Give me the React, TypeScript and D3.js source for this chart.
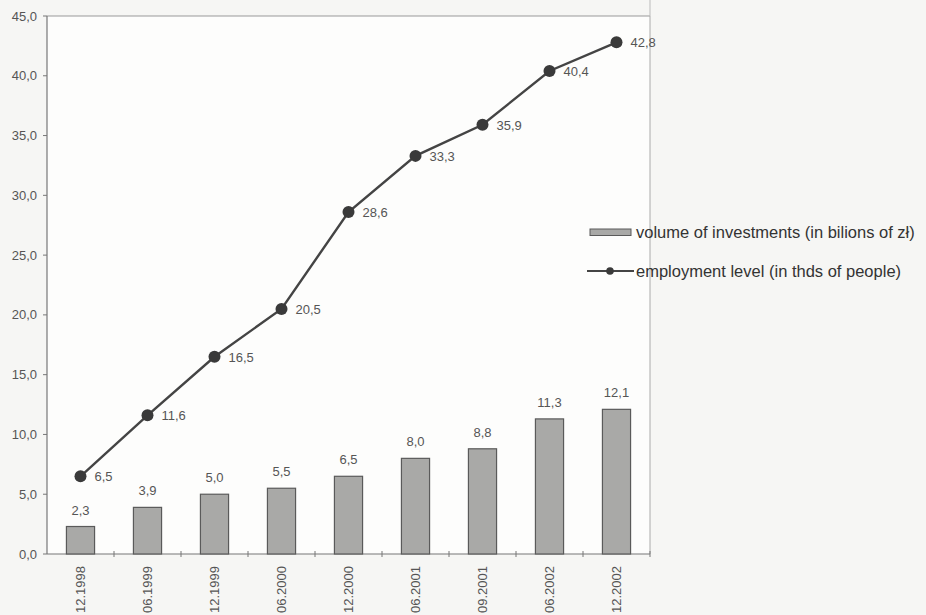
import React from "react";
import * as d3 from "d3";

const categories = ["12.1998", "06.1999", "12.1999", "06.2000", "12.2000", "06.2001", "09.2001", "06.2002", "12.2002"];
const investments = [2.3, 3.9, 5.0, 5.5, 6.5, 8.0, 8.8, 11.3, 12.1];
const employment = [6.5, 11.6, 16.5, 20.5, 28.6, 33.3, 35.9, 40.4, 42.8];
const yTicks = [0, 5, 10, 15, 20, 25, 30, 35, 40, 45];
const legendLabels = ["volume of investments (in bilions of zł)", "employment level (in thds of people)"];

const W = 926, H = 615;
const left = 47, right = 650, top = 16, bottom = 554;
const fmt = (v: number) => v.toFixed(1).replace(".", ",");
const font = "Arial, 'Liberation Sans', sans-serif";

export default function App() {
  const x = d3.scaleBand<string>().domain(categories).range([left, right]).paddingInner(0.58).paddingOuter(0.29);
  const xc = (c: string) => (x(c) as number) + x.bandwidth() / 2;
  const y = d3.scaleLinear().domain([0, 45]).range([bottom, top]);
  const step = (right - left) / categories.length;
  const line = d3.line<number>().x((_, i) => xc(categories[i])).y((d) => y(d));
  const textColor = "#555";
  return (
    <svg width={W} height={H} style={{ position: "absolute", left: 0, top: 0 }} fontFamily={font}>
      <rect x={0} y={0} width={W} height={H} fill="#f6f6f4" />
      <rect x={left} y={top} width={right - left} height={bottom - top} fill="#fdfdfc" />
      <line x1={left} x2={right} y1={top} y2={top} stroke="#999" strokeWidth={1} />
      <line x1={right} x2={right} y1={top} y2={bottom} stroke="#aaa" strokeWidth={1} />
      <line x1={right} x2={right} y1={0} y2={top} stroke="#bbb" strokeWidth={1} />
      {/* y axis */}
      <line x1={left} x2={left} y1={top} y2={bottom} stroke="#777" strokeWidth={1.2} />
      {yTicks.map((t) => (
        <g key={t}>
          <line x1={left - 4} x2={left} y1={y(t)} y2={y(t)} stroke="#777" />
          <text x={37} y={y(t) + 4.5} textAnchor="end" fontSize={13} fill={textColor}>{fmt(t)}</text>
        </g>
      ))}
      {/* x axis */}
      <line x1={left} x2={right} y1={bottom} y2={bottom} stroke="#777" strokeWidth={1.2} />
      {categories.map((c, i) => (
        <line key={c} x1={left + step * (i + 1)} x2={left + step * (i + 1)} y1={bottom - 3} y2={bottom + 3} stroke="#777" />
      ))}
      {categories.map((c) => (
        <text key={c} transform={`translate(${xc(c) + 4.5},${566}) rotate(-90)`} textAnchor="end" fontSize={13} fill={textColor}>{c}</text>
      ))}
      {/* bars */}
      {investments.map((v, i) => (
        <g key={i}>
          <rect x={x(categories[i])} y={y(v)} width={x.bandwidth()} height={bottom - y(v)} fill="#a9a9a7" stroke="#5a5a5a" strokeWidth={1.2} />
          <text x={xc(categories[i])} y={y(v) - 12} textAnchor="middle" fontSize={13} fill={textColor}>{fmt(v)}</text>
        </g>
      ))}
      {/* line */}
      <path d={line(employment) || ""} fill="none" stroke="#444" strokeWidth={2.4} />
      {employment.map((v, i) => (
        <g key={i}>
          <circle cx={xc(categories[i])} cy={y(v)} r={6} fill="#3a3a3a" />
          <text x={xc(categories[i]) + 14} y={y(v) + 5} fontSize={13} fill={textColor}>{fmt(v)}</text>
        </g>
      ))}
      {/* legend */}
      <rect x={590} y={229} width={41} height={6.5} fill="#a9a9a7" stroke="#5a5a5a" />
      <text x={636} y={238} fontSize={16.5} fill="#333">{legendLabels[0]}</text>
      <line x1={587} x2={634} y1={271} y2={271} stroke="#444" strokeWidth={2} />
      <circle cx={610} cy={271} r={3.8} fill="#3a3a3a" />
      <text x={636} y={277} fontSize={16.5} fill="#333">{legendLabels[1]}</text>
    </svg>
  );
}
